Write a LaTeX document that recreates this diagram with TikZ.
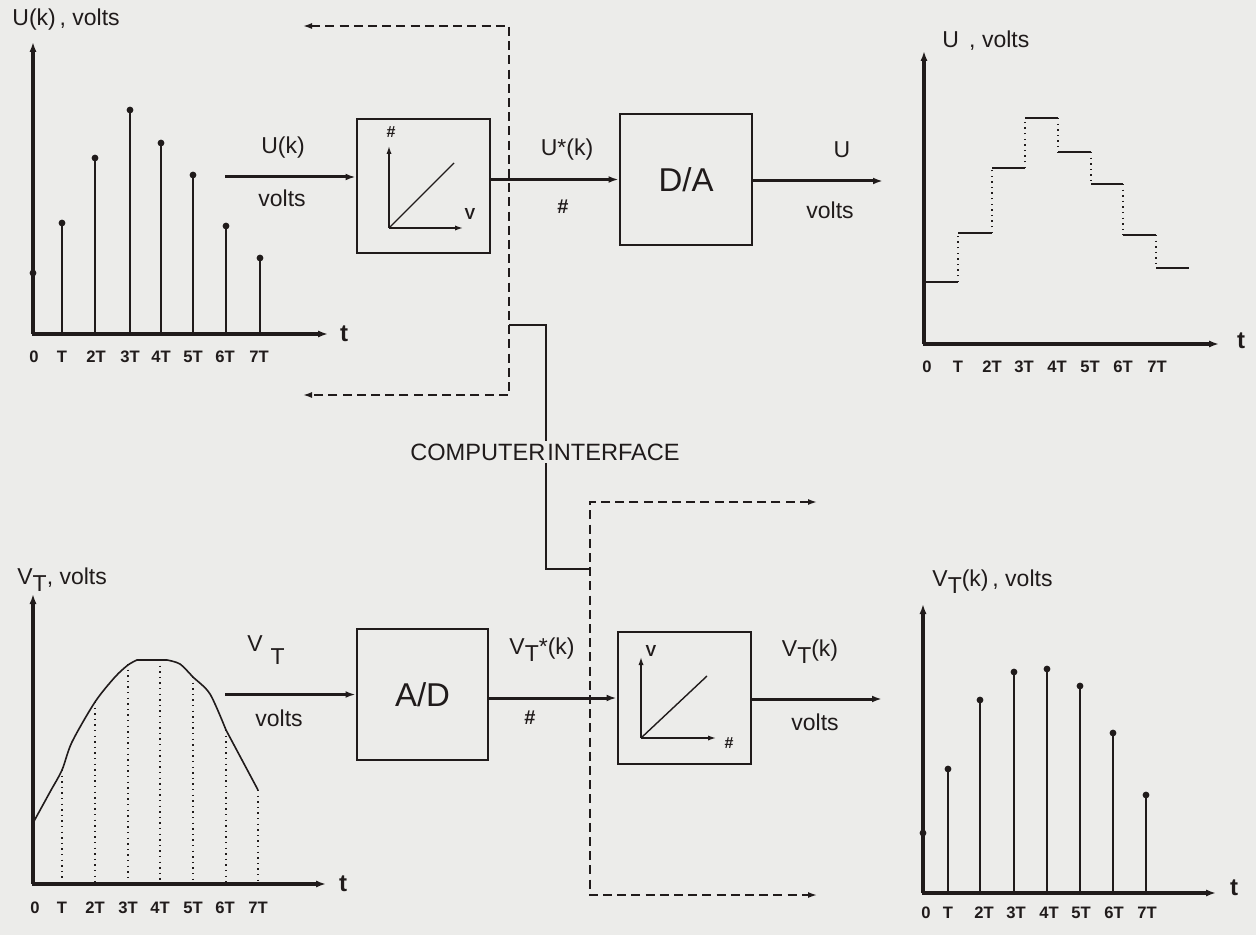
\documentclass[tikz,border=0pt]{standalone}
\usepackage{fontspec}
\setmainfont{Liberation Sans}
\usetikzlibrary{arrows.meta}
\definecolor{bgc}{RGB}{236,236,234}
\definecolor{ink}{RGB}{32,27,27}
\begin{document}
\begin{tikzpicture}[x=0.5pt,y=-0.5pt,color=ink,
  axisarrow/.style={draw=ink,line width=1.6pt,-{Latex[length=5pt,width=3.6pt]}},
  sigline/.style={draw=ink,line width=1.5pt,-{Latex[length=5pt,width=3.4pt]}},
  thinarrow/.style={draw=ink,line width=0.7pt,-{Latex[length=4pt,width=2.6pt]}},
  stemline/.style={draw=ink,line width=0.9pt},
  levelline/.style={draw=ink,line width=0.8pt},
  dotline/.style={draw=ink,line width=0.7pt,dash pattern=on 0.7pt off 2.1pt},
  dashline/.style={draw=ink,line width=0.8pt,dash pattern=on 4.5pt off 2.6pt},
  blockbox/.style={draw=ink,line width=1.4pt,inner sep=0pt,fill=bgc},
  lbl/.style={text=ink,inner sep=0pt,font=\fontsize{11.5}{13}\selectfont},
  big/.style={text=ink,inner sep=0pt,font=\fontsize{16.5}{18}\selectfont},
  ticklbl/.style={text=ink,inner sep=0pt,font=\bfseries\fontsize{8.3}{10}\selectfont},
  tlbl/.style={text=ink,inner sep=0pt,font=\bfseries\fontsize{12}{14}\selectfont},
  smallbold/.style={text=ink,inner sep=0pt,font=\bfseries\fontsize{8}{9}\selectfont},
  sdot/.style={fill=ink,draw=none}
]
\fill[bgc] (0,0) rectangle (1256,935);
\useasboundingbox (0,0) rectangle (1256,935);

% ================= top-left plot: U(k) =================
\node[lbl,anchor=west] (ttlA) at (12,20) {U(k)\,, volts};
\draw[axisarrow] (33,334) -- (33,42);
\draw[axisarrow] (32,334) -- (328,334);
\node[tlbl] (tA) at (344,334) {t};
\fill[sdot] (33,273) circle (1.7pt);
\foreach \x/\y in {62/223,95/158,130/110,161/143,193/175,226/226,260/258}{
  \draw[stemline] (\x,334) -- (\x,\y);
  \fill[sdot] (\x,\y) circle (1.7pt);}
\foreach \x/\l [count=\i] in {34/0,62/T,96/2T,130/3T,161/4T,193/5T,225/6T,259/7T}
  \node[ticklbl] (ta\i) at (\x,357) {\l};

% ================= top blocks =================
\node[blockbox,minimum width=66.5pt,minimum height=67pt] (qa) at (423.5,186) {};
\node[blockbox,minimum width=66pt,minimum height=65.5pt] (da) at (686,179.5) {};
\node[big] (daT) at (da.center) {D/A};
% inner graph of quantiser
\draw[thinarrow] (389,228) -- (389,146);
\draw[thinarrow] (389,228) -- (463,228);
\draw[draw=ink,line width=0.7pt] (389,228) -- (454,163);
\node[smallbold] (qaH) at (391,132) {\#};
\node[smallbold] (qaV) at (470,214) {V};

\coordinate (uin) at (225,177);
\draw[sigline] (uin) -- (uin -| qa.west);
\node[lbl] (ukT) at (283,148) {U(k)};
\node[lbl] (ukB) at (282,198) {volts};

\draw[sigline] (qa.east |- da.west) -- (da.west);
\node[lbl] (usT) at (567,150) {U*(k)};
\node[smallbold,font=\bfseries\fontsize{10}{11}\selectfont] (usB) at (563,207) {\#};

\coordinate (uout) at (883,181);
\draw[sigline] (da.east |- uout) -- (uout);
\node[lbl] (uT) at (842,150) {U};
\node[lbl] (uB) at (830,210) {volts};

% ================= top-right plot: U =================
\node[lbl,anchor=west] (ttlB) at (942,41) {U\ \,, volts};
\draw[axisarrow] (924,344) -- (924,51);
\draw[axisarrow] (923,344) -- (1219,344);
\node[tlbl] (tB) at (1241,341) {t};
\draw[levelline] (924,282) -- (958,282);
\draw[levelline] (958,233) -- (992,233);
\draw[levelline] (992,168) -- (1025,168);
\draw[levelline] (1025,118) -- (1058,118);
\draw[levelline] (1058,152) -- (1091,152);
\draw[levelline] (1091,184) -- (1123,184);
\draw[levelline] (1123,235) -- (1156,235);
\draw[levelline] (1156,268) -- (1189,268);
\draw[dotline] (958,282) -- (958,233);
\draw[dotline] (992,233) -- (992,168);
\draw[dotline] (1025,168) -- (1025,118);
\draw[dotline] (1058,118) -- (1058,152);
\draw[dotline] (1091,152) -- (1091,184);
\draw[dotline] (1123,184) -- (1123,235);
\draw[dotline] (1156,235) -- (1156,268);
\foreach \x/\l [count=\i] in {927/0,958/T,992/2T,1024/3T,1057/4T,1090/5T,1123/6T,1157/7T}
  \node[ticklbl] (tb\i) at (\x,367) {\l};

% ================= computer interface =================
\coordinate (d1) at (303,26);
\coordinate (d2) at (509,26);
\coordinate (d3) at (509,395);
\coordinate (d4) at (303,395);
\draw[dashline,{Latex[length=4.5pt,width=3pt]}-{Latex[length=4.5pt,width=3pt]}] (d1) -- (d2) -- (d3) -- (d4);
\coordinate (e1) at (817,502);
\coordinate (e2) at (590,502);
\coordinate (e3) at (590,895);
\coordinate (e4) at (817,895);
\draw[dashline,{Latex[length=4.5pt,width=3pt]}-{Latex[length=4.5pt,width=3pt]}] (e1) -- (e2) -- (e3) -- (e4);
\coordinate (s1) at (509,325);
\coordinate (s2) at (546,325);
\coordinate (s3) at (546,569);
\coordinate (s4) at (590,569);
\draw[draw=ink,line width=0.8pt] (s1) -- (s2) -- (s3) -- (s4);
\node[lbl,fill=bgc,inner sep=1.5pt,font=\fontsize{11.8}{13}\selectfont] (ci) at (545,452) {COMPUTER\hspace{0.08em}INTERFACE};

% ================= bottom-left plot: V_T =================
\node[lbl,anchor=west] (ttlC) at (17,580) {V\raisebox{-0.55ex}{T}, volts};
\draw[axisarrow] (33,884) -- (33,594);
\draw[axisarrow] (32,884) -- (326,884);
\node[tlbl] (tC) at (343,884) {t};
\draw[draw=ink,line width=0.8pt] plot[smooth,tension=0.5] coordinates {(33,823) (50,792) (62,770) (72,742) (95,702) (115,677) (128,665) (137,660)}
  -- (167,660)
  plot[smooth,tension=0.5] coordinates {(167,660) (180,664) (193,677) (210,694) (226,730)} -- (258,790);
\foreach \x/\y in {62/770,95/702,128/664,160/660,193/677,226/730,258/790}
  \draw[dotline] (\x,\y) -- (\x,882);
\foreach \x/\l [count=\i] in {35/0,62/T,95/2T,128/3T,160/4T,193/5T,225/6T,258/7T}
  \node[ticklbl] (tc\i) at (\x,908) {\l};

% ================= bottom blocks =================
\node[blockbox,minimum width=65.5pt,minimum height=65.5pt] (ad) at (422.5,694.5) {};
\node[big] (adT) at (ad.center) {A/D};
\node[blockbox,minimum width=66.5pt,minimum height=66pt] (rq) at (684.5,698) {};
\draw[thinarrow] (641,738) -- (641,657);
\draw[thinarrow] (641,738) -- (716,738);
\draw[draw=ink,line width=0.7pt] (641,738) -- (707,676);
\node[smallbold] (rqV) at (651,651) {V};
\node[smallbold] (rqH) at (729,743) {\#};

\coordinate (vin) at (225,694.5);
\draw[sigline] (vin) -- (ad.west);
\node[lbl] (vtT) at (266,650) {V\hspace{0.35em}\raisebox{-1.05ex}{T}};
\node[lbl] (vtB) at (279,718) {volts};

\draw[sigline] (ad.east |- rq.west) -- (rq.west);
\node[lbl] (vsT) at (542,650) {V\raisebox{-0.55ex}{T}*(k)};
\node[smallbold,font=\bfseries\fontsize{10}{11}\selectfont] (vsB) at (530,718) {\#};

\coordinate (vout) at (882,699);
\draw[sigline] (rq.east |- vout) -- (vout);
\node[lbl] (vkT) at (810,652) {V\raisebox{-0.55ex}{T}(k)};
\node[lbl] (vkB) at (815,722) {volts};

% ================= bottom-right plot: V_T(k) =================
\node[lbl,anchor=west] (ttlD) at (932,582) {V\raisebox{-0.55ex}{T}(k)\,, volts};
\draw[axisarrow] (923,893) -- (923,604);
\draw[axisarrow] (922,893) -- (1216,893);
\node[tlbl] (tD) at (1234,888) {t};
\fill[sdot] (923,833) circle (1.7pt);
\foreach \x/\y in {948/769,980/700,1014/672,1047/669,1080/686,1113/733,1146/795}{
  \draw[stemline] (\x,893) -- (\x,\y);
  \fill[sdot] (\x,\y) circle (1.7pt);}
\foreach \x/\l [count=\i] in {926/0,948/T,984/2T,1016/3T,1049/4T,1081/5T,1114/6T,1147/7T}
  \node[ticklbl] (td\i) at (\x,913) {\l};
\end{tikzpicture}
\end{document}
